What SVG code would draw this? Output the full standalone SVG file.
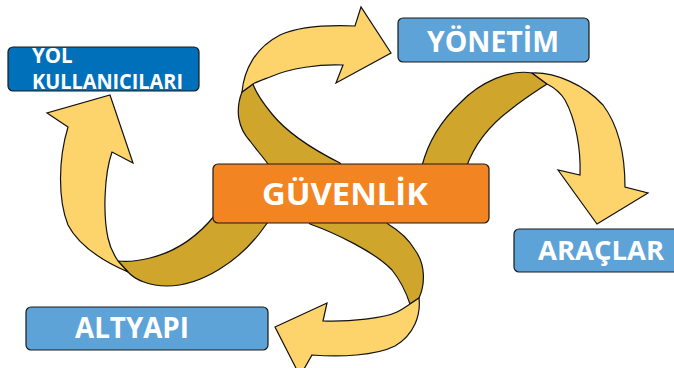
<svg xmlns="http://www.w3.org/2000/svg" width="674" height="368" viewBox="0 0 674 368">
<style>
.dark{fill:#CFA52C;stroke:#111;stroke-width:1.2;stroke-linejoin:round}
.light{fill:#FCD46B;stroke:#111;stroke-width:1.2;stroke-linejoin:miter}
.box{stroke:#1a1a1a;stroke-width:1.2}
.t{font-family:"Open Sans","Liberation Sans",sans-serif;font-weight:bold;fill:#fff}
</style>
<rect width="674" height="368" fill="#fff"/>
<g id="connectors">
<path class="dark" d="M242,92 C235,110 238,128 250,141 C256,149 262,156 268,164 L310,224 C335,233 375,252 392,270 C400,280 406,292 410,304 L419,298 C425,285 426,265 415,250 C408,238 398,230 388,224 L340,163 C310,148 285,130 272,114 C263,103 256,93 253,84 Z"/>
<path class="dark" d="M532,73 C510,69 480,82 460,103 C442,120 428,142 422,166 L215,215 C198,236 175,252 150,258 C138,261 127,262 118,261 L128,272 C135,280 150,286 167,286 C200,286 240,262 265,226 L268,222 L466,168 C474,145 490,125 510,110 C525,98 538,90 547,84 Z"/>
<path class="light" d="M242,92 C244,70 255,48 280,35 C300,26 330,25 355,26 L361,7 L391,53 L336,83 L343,65 C320,64 290,68 270,77 C262,80 256,82 253,84 Z"/>
<path class="light" d="M410,304 L419,298 C421,315 414,335 395,346 C375,356 340,357 312,355 L300,376 L275,327 L327,303 L323,321 C350,322 385,318 397,312 C403,309 407,306 410,304 Z"/>
<path class="light" d="M532,73 C555,72 585,85 603,105 C618,125 625,155 625,187 L648,193 L597,224 L558,170 L580,175 C581,150 576,120 565,100 C560,92 553,87 547,84 Z"/>
<path class="light" d="M118,261 L128,272 C105,262 80,248 68,225 C58,200 58,160 68,127 L47,113 L110,95 L133,163 L112,152 C104,175 103,215 108,238 C110,248 114,255 118,261 Z"/>
</g>
<g id="node-yol">
<rect class="box" x="8" y="47" width="191" height="44" rx="5" fill="#0070BA"/>
<text class="t" x="32" y="63" font-size="20.5">YOL</text>
<text class="t" x="32" y="89" font-size="20.5" textLength="151" lengthAdjust="spacingAndGlyphs">KULLANICILARI</text>
</g>
<g id="node-yonetim">
<rect class="box" x="398" y="18" width="191" height="44" rx="5" fill="#5EA3D7"/>
<text class="t" x="427" y="52" font-size="28" textLength="132" lengthAdjust="spacingAndGlyphs">YÖNETİM</text>
</g>
<g id="node-guvenlik">
<rect class="box" x="213" y="164" width="276" height="59" rx="5" fill="#F38422"/>
<text class="t" x="262" y="205" font-size="30.5" textLength="166" lengthAdjust="spacingAndGlyphs">GÜVENLİK</text>
</g>
<g id="node-araclar">
<rect class="box" x="514" y="229" width="170" height="43" rx="5" fill="#5EA3D7"/>
<text class="t" x="538" y="260" font-size="27" textLength="126" lengthAdjust="spacingAndGlyphs">ARAÇLAR</text>
</g>
<g id="node-altyapi">
<rect class="box" x="26" y="307" width="242" height="43" rx="5" fill="#5EA3D7"/>
<text class="t" x="75" y="338" font-size="29" textLength="114" lengthAdjust="spacingAndGlyphs">ALTYAPI</text>
</g>
</svg>
